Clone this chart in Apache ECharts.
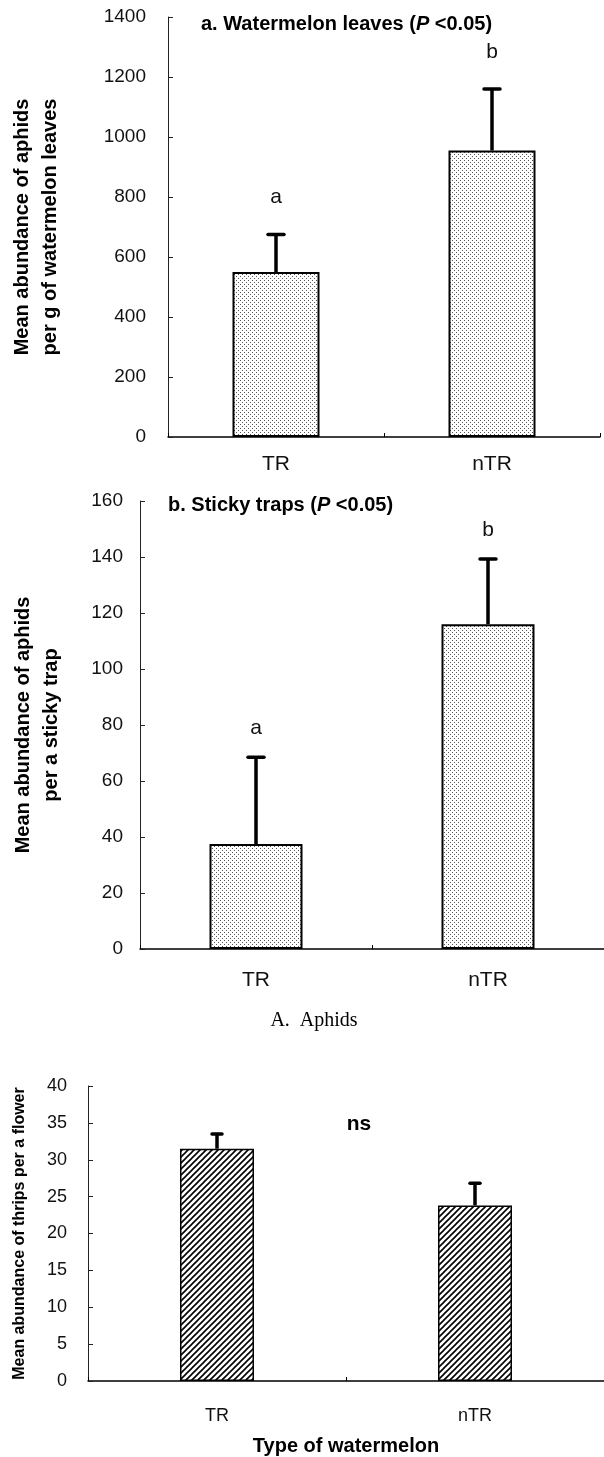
<!DOCTYPE html>
<html lang="en">
<head>
  <meta charset="UTF-8">
  <title>Aphids and thrips on watermelon</title>
  <style>
    html, body { margin: 0; padding: 0; background: #fff; }
    #main { width: 604px; height: 1457px; }
  </style>
</head>
<body>
  <div id="main"></div>
  <script src="https://cdn.jsdelivr.net/npm/echarts@6/dist/echarts.min.js"></script>
  <script>
    // data
    const categories = ['TR', 'nTR']

    const leafMeans = [550, 955]
    const leafErrors = [125, 205]
    const leafLetters = ['a', 'b']

    const trapMeans = [37.5, 116]
    const trapErrors = [31, 23.3]
    const trapLetters = ['a', 'b']

    const thripsMeans = [31.5, 23.8]
    const thripsErrors = [2.0, 3.0]

    const sans = "'Liberation Sans', Arial, sans-serif"

    const chart = echarts.init(document.getElementById('main'))

    // fill patterns
    function dotPattern () {
      const c = document.createElement('canvas')
      c.width = 4
      c.height = 4
      const ctx = c.getContext('2d')
      ctx.fillStyle = '#fff'
      ctx.fillRect(0, 0, 4, 4)
      ctx.fillStyle = '#555'
      ctx.fillRect(0, 0, 1, 1)
      ctx.fillRect(2, 2, 1, 1)
      return c
    }

    function hatchPattern () {
      const s = 6
      const c = document.createElement('canvas')
      c.width = s
      c.height = s
      const ctx = c.getContext('2d')
      ctx.fillStyle = '#fff'
      ctx.fillRect(0, 0, s, s)
      ctx.strokeStyle = '#000'
      ctx.lineWidth = 1.6
      ctx.beginPath()
      ctx.moveTo(0, s); ctx.lineTo(s, 0)
      ctx.moveTo(-1, 1); ctx.lineTo(1, -1)
      ctx.moveTo(s - 1, s + 1); ctx.lineTo(s + 1, s - 1)
      ctx.stroke()
      return c
    }

    function errData (means, errs) {
      return means.map((m, i) => [i, m, m + errs[i]])
    }

    function errorRenderer (capW, letterGap, letters) {
      return function (params, api) {
        const i = api.value(0)
        const base = api.coord([i, api.value(1)])
        const tip = api.coord([i, api.value(2)])
        const children = [
          { type: 'line', shape: { x1: base[0], y1: base[1], x2: tip[0], y2: tip[1] },
            style: { stroke: '#000', lineWidth: 3.5 } },
          { type: 'line', shape: { x1: tip[0] - capW / 2, y1: tip[1], x2: tip[0] + capW / 2, y2: tip[1] },
            style: { stroke: '#000', lineWidth: 3.5, lineCap: 'round' } }
        ]
        if (letters) {
          children.push({
            type: 'text', x: tip[0], y: tip[1] - letterGap,
            style: { text: letters[params.dataIndex], fill: '#111', font: '21px ' + sans,
              align: 'center', verticalAlign: 'middle' }
          })
        }
        return { type: 'group', children: children }
      }
    }

    function xAxisOf (gridIndex, size, margin) {
      return {
        type: 'category', gridIndex: gridIndex, data: categories,
        axisLine: { lineStyle: { color: '#000', width: 1.5 } },
        axisTick: { show: true, inside: true, length: 4, lineStyle: { color: '#000' } },
        axisLabel: { fontFamily: sans, fontSize: size, color: '#111', margin: margin },
        splitLine: { show: false }
      }
    }

    function yAxisOf (gridIndex, max, interval, size, margin, name, nameSize, nameGap) {
      return {
        type: 'value', gridIndex: gridIndex, min: 0, max: max, interval: interval,
        name: name, nameLocation: 'middle', nameGap: nameGap,
        nameTextStyle: { fontFamily: sans, fontWeight: 'bold', fontSize: nameSize,
          lineHeight: nameSize + 8, color: '#000' },
        axisLine: { show: true, lineStyle: { color: '#222', width: 1 } },
        axisTick: { show: true, inside: true, length: 5, lineStyle: { color: '#222' } },
        axisLabel: { fontFamily: sans, fontSize: size, color: '#111', margin: margin,
          formatter: v => String(v) },
        splitLine: { show: false }
      }
    }

    const dots = { image: dotPattern(), repeat: 'repeat' }
    const hatch = { image: hatchPattern(), repeat: 'repeat' }

    const titleRich = {
      b: { fontFamily: sans, fontWeight: 'bold', fontSize: 20, color: '#000' },
      i: { fontFamily: sans, fontWeight: 'bold', fontStyle: 'italic', fontSize: 20, color: '#000' }
    }

    chart.setOption({
      animation: false,
      backgroundColor: '#fff',
      title: [
        {
          text: '{b|a. Watermelon leaves (}{i|P}{b| <0.05)}',
          left: 196, top: 9,
          textStyle: { rich: titleRich }
        },
        {
          text: '{b|b. Sticky traps (}{i|P}{b| <0.05)}',
          left: 163, top: 490,
          textStyle: { rich: titleRich }
        },
        {
          text: 'A.  Aphids', left: 309, top: 1006, textAlign: 'center',
          textStyle: { fontFamily: "'Liberation Serif', 'Times New Roman', serif", fontWeight: 'normal',
            fontSize: 20, color: '#000' }
        },
        {
          text: 'ns', left: 354, top: 1109, textAlign: 'center',
          textStyle: { fontFamily: sans, fontWeight: 'bold', fontSize: 21, color: '#000' }
        }
      ],
      grid: [
        { left: 168, top: 17, width: 432, height: 420 },
        { left: 140, top: 501, width: 466, height: 448 },
        { left: 83, top: 1086, width: 528, height: 295 }
      ],
      xAxis: [
        xAxisOf(0, 21, 17),
        xAxisOf(1, 21, 21),
        Object.assign(xAxisOf(2, 18, 26), {
          name: 'Type of watermelon', nameLocation: 'middle', nameGap: 55,
          nameTextStyle: { fontFamily: sans, fontWeight: 'bold', fontSize: 20, color: '#000' }
        })
      ],
      yAxis: [
        yAxisOf(0, 1400, 200, 19, 22,
          'Mean abundance of aphids\nper g of watermelon leaves', 20, 104),
        yAxisOf(1, 160, 20, 19, 17,
          'Mean abundance of aphids\nper a sticky trap', 20, 75),
        yAxisOf(2, 40, 5, 18, 21,
          'Mean abundance of thrips per a flower', 16, 56)
      ],
      series: [
        {
          type: 'bar', xAxisIndex: 0, yAxisIndex: 0, data: leafMeans, barWidth: 87,
          itemStyle: { color: dots, borderColor: '#000', borderWidth: 2 }
        },
        {
          type: 'custom', xAxisIndex: 0, yAxisIndex: 0, z: 5,
          data: errData(leafMeans, leafErrors), encode: { x: 0, y: [1, 2] },
          renderItem: errorRenderer(16, 37, leafLetters)
        },
        {
          type: 'bar', xAxisIndex: 1, yAxisIndex: 1, data: trapMeans, barWidth: 93,
          itemStyle: { color: dots, borderColor: '#000', borderWidth: 2 }
        },
        {
          type: 'custom', xAxisIndex: 1, yAxisIndex: 1, z: 5,
          data: errData(trapMeans, trapErrors), encode: { x: 0, y: [1, 2] },
          renderItem: errorRenderer(16, 29, trapLetters)
        },
        {
          type: 'bar', xAxisIndex: 2, yAxisIndex: 2, data: thripsMeans, barWidth: 74,
          itemStyle: { color: hatch, borderColor: '#000', borderWidth: 1.5 }
        },
        {
          type: 'custom', xAxisIndex: 2, yAxisIndex: 2, z: 5,
          data: errData(thripsMeans, thripsErrors), encode: { x: 0, y: [1, 2] },
          renderItem: errorRenderer(10, 0, null)
        }
      ]
    })
  </script>
</body>
</html>
